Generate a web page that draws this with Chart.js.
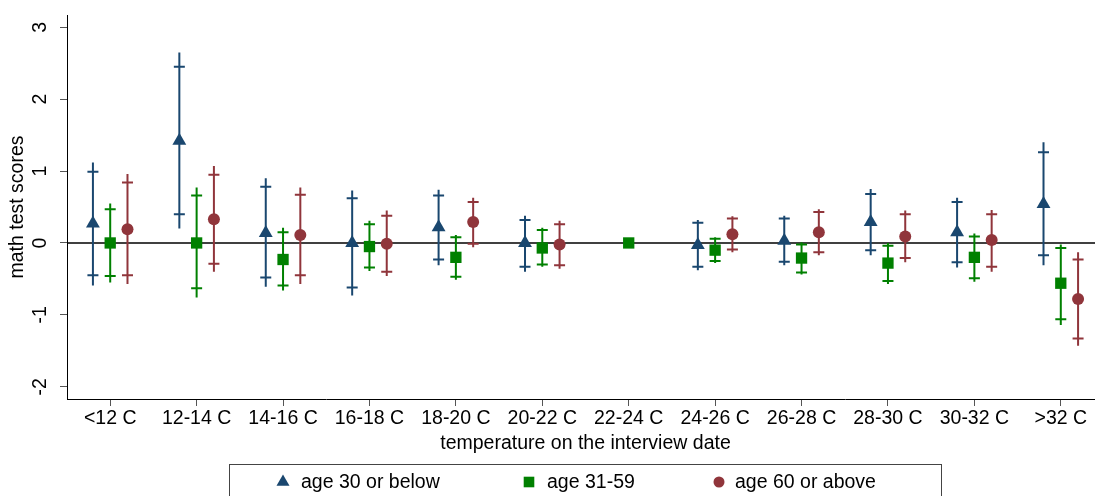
<!DOCTYPE html>
<html>
<head>
<meta charset="utf-8">
<script src="https://cdn.jsdelivr.net/npm/chart.js@4.4.1/dist/chart.umd.min.js"></script>
<style>
  body { margin: 0; overflow: hidden; background: #fff; }
  #wrap { width: 1112px; height: 496px; }
</style>
</head>
<body>
<div id="wrap"><canvas id="coef"></canvas></div>
<script>
const categories = ['<12 C', '12-14 C', '14-16 C', '16-18 C', '18-20 C', '20-22 C',
  '22-24 C', '24-26 C', '26-28 C', '28-30 C', '30-32 C', '>32 C'];
const yTicks = [-2, -1, 0, 1, 2, 3];
const seriesNames = ['age 30 or below', 'age 31-59', 'age 60 or above'];

// age 30 or below
const youngEst  = [0.27, 1.42, 0.14, 0.0, 0.22, 0.0, null, -0.03, 0.03, 0.29, 0.15, 0.54];
const youngHi95 = [1.12, 2.65, 0.90, 0.73, 0.74, 0.38, null, 0.32, 0.38, 0.75, 0.63, 1.40];
const youngHi90 = [0.99, 2.45, 0.78, 0.62, 0.66, 0.32, null, 0.28, 0.34, 0.68, 0.57, 1.26];
const youngLo90 = [-0.45, 0.40, -0.48, -0.62, -0.23, -0.33, null, -0.33, -0.26, -0.10, -0.27, -0.17];
const youngLo95 = [-0.59, 0.20, -0.61, -0.73, -0.31, -0.40, null, -0.38, -0.31, -0.17, -0.34, -0.31];

// age 31-59
const midEst  = [0.0, 0.0, -0.23, -0.05, -0.20, -0.07, 0.0, -0.10, -0.21, -0.28, -0.20, -0.56];
const midHi95 = [0.55, 0.77, 0.21, 0.31, 0.11, 0.21, null, 0.08, 0.01, 0.0, 0.13, -0.02];
const midHi90 = [0.47, 0.66, 0.15, 0.26, 0.08, 0.18, null, 0.06, -0.02, -0.04, 0.09, -0.07];
const midLo90 = [-0.46, -0.63, -0.59, -0.34, -0.47, -0.30, null, -0.25, -0.41, -0.53, -0.49, -1.06];
const midLo95 = [-0.55, -0.76, -0.66, -0.39, -0.51, -0.33, null, -0.28, -0.44, -0.57, -0.54, -1.14];

// age 60 or above
const oldEst  = [0.19, 0.33, 0.11, -0.01, 0.29, -0.02, null, 0.12, 0.15, 0.09, 0.04, -0.78];
const oldHi95 = [0.96, 1.07, 0.77, 0.45, 0.63, 0.31, null, 0.37, 0.47, 0.45, 0.46, -0.13];
const oldHi90 = [0.84, 0.95, 0.67, 0.38, 0.57, 0.26, null, 0.34, 0.43, 0.40, 0.40, -0.23];
const oldLo90 = [-0.45, -0.29, -0.45, -0.40, -0.01, -0.31, null, -0.09, -0.13, -0.21, -0.33, -1.33];
const oldLo95 = [-0.57, -0.40, -0.57, -0.46, -0.06, -0.36, null, -0.13, -0.17, -0.27, -0.40, -1.43];

const navy = '#1a476f';
const green = '#008000';
const maroon = '#90353b';
const font = { family: '"Liberation Sans", Arial, sans-serif', size: 19.5 };

function points(est, lo95, lo90, hi90, hi95, dx) {
  const out = [];
  est.forEach((v, i) => {
    if (v === null) return;
    out.push({ x: i + dx, y: v, lo95: lo95[i], lo90: lo90[i], hi90: hi90[i], hi95: hi95[i] });
  });
  return out;
}

// zero line + confidence intervals (outer line = 95%, caps = 90%)
const errorBars = {
  id: 'errorBars',
  beforeDatasetsDraw(chart) {
    const { ctx, chartArea, scales: { x, y } } = chart;
    ctx.save();
    ctx.strokeStyle = '#000';
    ctx.lineWidth = 1.6;
    const y0 = y.getPixelForValue(0);
    ctx.beginPath();
    ctx.moveTo(chartArea.left, y0);
    ctx.lineTo(chartArea.right, y0);
    ctx.stroke();

    chart.data.datasets.forEach((ds) => {
      ctx.strokeStyle = ds.borderColor;
      ctx.lineWidth = 2;
      ds.data.forEach((p) => {
        if (p.hi95 == null) return;
        const px = x.getPixelForValue(p.x);
        ctx.beginPath();
        ctx.moveTo(px, y.getPixelForValue(p.lo95));
        ctx.lineTo(px, y.getPixelForValue(p.hi95));
        [p.lo90, p.hi90].forEach((v) => {
          const py = y.getPixelForValue(v);
          ctx.moveTo(px - 5.5, py);
          ctx.lineTo(px + 5.5, py);
        });
        ctx.stroke();
      });
    });
    ctx.restore();
  }
};

// boxed legend under the axis title
const boxLegend = {
  id: 'boxLegend',
  afterDraw(chart) {
    const { ctx } = chart;
    const spots = [[283, 301], [529, 547], [719, 735]];
    ctx.save();
    ctx.strokeStyle = '#444';
    ctx.lineWidth = 1;
    ctx.strokeRect(229.5, 464.5, 712, 60);
    ctx.font = font.size + 'px ' + font.family;
    ctx.textBaseline = 'middle';
    chart.data.datasets.forEach((ds, i) => {
      ctx.fillStyle = ds.backgroundColor;
      Chart.helpers.drawPoint(ctx, { pointStyle: ds.pointStyle, radius: ds.pointRadius - 0.5, borderWidth: 0 }, spots[i][0], 482);
      ctx.fillStyle = '#000';
      ctx.fillText(ds.label, spots[i][1], 483);
    });
    ctx.restore();
  }
};

new Chart(document.getElementById('coef'), {
  type: 'scatter',
  data: {
    datasets: [
      {
        label: seriesNames[0],
        data: points(youngEst, youngLo95, youngLo90, youngHi90, youngHi95, -0.2),
        pointStyle: 'triangle', pointRadius: 8,
        backgroundColor: navy, borderColor: navy, borderWidth: 0
      },
      {
        label: seriesNames[1],
        data: points(midEst, midLo95, midLo90, midHi90, midHi95, 0),
        pointStyle: 'rect', pointRadius: 8,
        backgroundColor: green, borderColor: green, borderWidth: 0
      },
      {
        label: seriesNames[2],
        data: points(oldEst, oldLo95, oldLo90, oldHi90, oldHi95, 0.2),
        pointStyle: 'circle', pointRadius: 6,
        backgroundColor: maroon, borderColor: maroon, borderWidth: 0
      }
    ]
  },
  options: {
    responsive: true,
    maintainAspectRatio: false,
    animation: false,
    layout: { padding: { top: 15, right: 0, bottom: 0, left: 0 } },
    plugins: { legend: { display: false }, tooltip: { enabled: false } },
    scales: {
      x: {
        type: 'linear',
        min: -0.5,
        max: 11.5,
        afterBuildTicks: (s) => { s.ticks = categories.map((c, i) => ({ value: i })); },
        afterFit: (s) => { s.height = 97; s.paddingLeft = 0; s.paddingRight = 0; },
        ticks: { callback: (v) => categories[v], font, color: '#000', padding: 1, autoSkip: false, maxRotation: 0 },
        grid: { drawOnChartArea: false, tickLength: 7, color: '#555' },
        border: { color: '#000', width: 1 },
        title: { display: true, text: 'temperature on the interview date', font, color: '#000', padding: { top: 0, bottom: 41 } }
      },
      y: {
        min: -2.17,
        max: 3.17,
        afterBuildTicks: (s) => { s.ticks = yTicks.map((v) => ({ value: v })); },
        afterFit: (s) => { s.width = 67; s.paddingTop = 0; s.paddingBottom = 0; },
        ticks: { font, color: '#000', minRotation: 90, maxRotation: 90, crossAlign: 'center', padding: 11 },
        grid: { drawOnChartArea: false, tickLength: 7, color: '#555' },
        border: { color: '#000', width: 1 },
        title: { display: true, text: 'math test scores', font, color: '#000', padding: { top: 6, bottom: 0 } }
      }
    }
  },
  plugins: [errorBars, boxLegend]
});
</script>
</body>
</html>
